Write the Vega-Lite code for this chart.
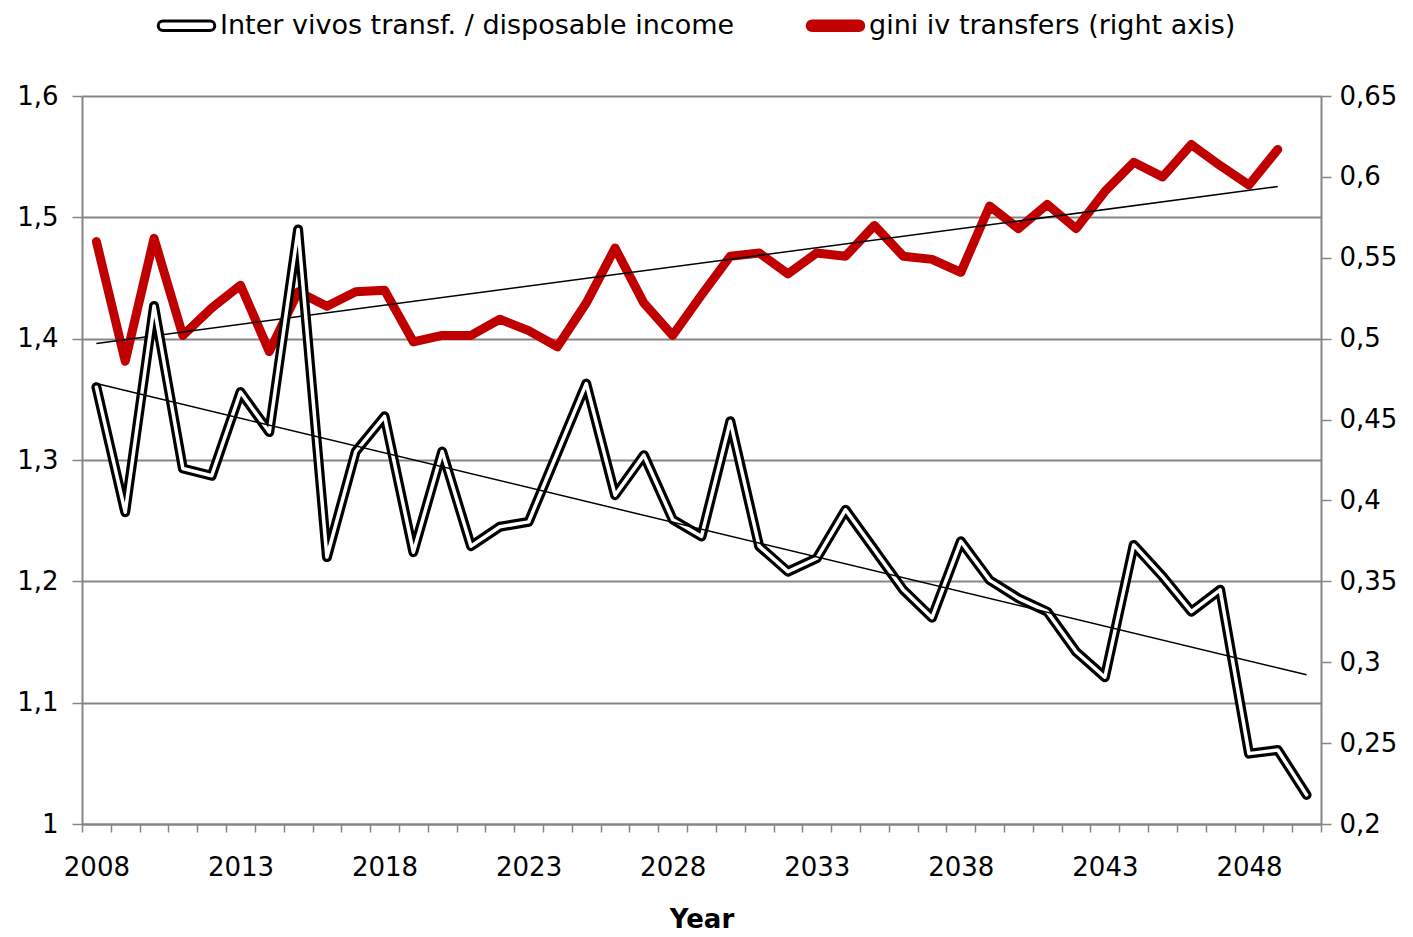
{
  "$schema": "https://vega.github.io/schema/vega-lite/v6.json",
  "width": 1239,
  "height": 728,
  "autosize": "none",
  "padding": {"left": 82, "top": 96, "right": 92, "bottom": 113},
  "background": "white",
  "config": {
    "view": {"stroke": null},
    "font": "DejaVu Sans",
    "axis": {
      "labelFont": "DejaVu Sans",
      "labelFontSize": 26,
      "labelColor": "black",
      "titleFont": "DejaVu Sans",
      "titleFontSize": 26,
      "titleColor": "black",
      "domainColor": "#868686",
      "domainWidth": 2,
      "tickColor": "#868686",
      "tickWidth": 1.5,
      "gridColor": "#868686",
      "gridWidth": 2
    }
  },
  "datasets": {
    "series": [
      {"year": 2008, "ratio": 1.360, "gini": 0.560},
      {"year": 2009, "ratio": 1.257, "gini": 0.486},
      {"year": 2010, "ratio": 1.427, "gini": 0.562},
      {"year": 2011, "ratio": 1.293, "gini": 0.502},
      {"year": 2012, "ratio": 1.287, "gini": 0.519},
      {"year": 2013, "ratio": 1.356, "gini": 0.533},
      {"year": 2014, "ratio": 1.323, "gini": 0.492},
      {"year": 2015, "ratio": 1.490, "gini": 0.529},
      {"year": 2016, "ratio": 1.220, "gini": 0.520},
      {"year": 2017, "ratio": 1.307, "gini": 0.529},
      {"year": 2018, "ratio": 1.336, "gini": 0.530},
      {"year": 2019, "ratio": 1.224, "gini": 0.498},
      {"year": 2020, "ratio": 1.307, "gini": 0.502},
      {"year": 2021, "ratio": 1.229, "gini": 0.502},
      {"year": 2022, "ratio": 1.245, "gini": 0.512},
      {"year": 2023, "ratio": 1.249, "gini": 0.505},
      {"year": 2024, "ratio": 1.306, "gini": 0.495},
      {"year": 2025, "ratio": 1.363, "gini": 0.522},
      {"year": 2026, "ratio": 1.271, "gini": 0.556},
      {"year": 2027, "ratio": 1.304, "gini": 0.522},
      {"year": 2028, "ratio": 1.251, "gini": 0.502},
      {"year": 2029, "ratio": 1.237, "gini": 0.527},
      {"year": 2030, "ratio": 1.332, "gini": 0.551},
      {"year": 2031, "ratio": 1.229, "gini": 0.553},
      {"year": 2032, "ratio": 1.208, "gini": 0.540},
      {"year": 2033, "ratio": 1.219, "gini": 0.553},
      {"year": 2034, "ratio": 1.259, "gini": 0.551},
      {"year": 2035, "ratio": 1.226, "gini": 0.570},
      {"year": 2036, "ratio": 1.193, "gini": 0.551},
      {"year": 2037, "ratio": 1.170, "gini": 0.549},
      {"year": 2038, "ratio": 1.233, "gini": 0.541},
      {"year": 2039, "ratio": 1.201, "gini": 0.582},
      {"year": 2040, "ratio": 1.186, "gini": 0.568},
      {"year": 2041, "ratio": 1.175, "gini": 0.583},
      {"year": 2042, "ratio": 1.142, "gini": 0.568},
      {"year": 2043, "ratio": 1.121, "gini": 0.591},
      {"year": 2044, "ratio": 1.230, "gini": 0.609},
      {"year": 2045, "ratio": 1.204, "gini": 0.600},
      {"year": 2046, "ratio": 1.175, "gini": 0.620},
      {"year": 2047, "ratio": 1.193, "gini": 0.607},
      {"year": 2048, "ratio": 1.058, "gini": 0.595},
      {"year": 2049, "ratio": 1.061, "gini": 0.617},
      {"year": 2050, "ratio": 1.024, "gini": null}
    ],
    "trendRatio": [
      {"year": 2008, "trend": 1.363},
      {"year": 2050, "trend": 1.123}
    ],
    "trendGini": [
      {"year": 2008, "trend": 0.497},
      {"year": 2049, "trend": 0.594}
    ]
  },
  "encoding": {
    "x": {
      "field": "year",
      "type": "ordinal",
      "scale": {"type": "band", "paddingInner": 0, "paddingOuter": 0},
      "axis": {
        "title": "Year",
        "titleFontWeight": "bold",
        "titlePadding": 26,
        "labelAngle": 0,
        "labelOverlap": false,
        "labelPadding": 22,
        "tickBand": "extent",
        "tickSize": 8,
        "labelExpr": "(datum.value - 2008) % 5 == 0 ? datum.value + '' : ''"
      }
    }
  },
  "layer": [
    {
      "layer": [
        {
          "data": {"name": "series"},
          "mark": {"type": "line", "strokeWidth": 9, "strokeCap": "round", "strokeJoin": "round"},
          "encoding": {
            "y": {"field": "gini", "type": "quantitative"},
            "stroke": {
              "datum": "gini iv transfers (right axis)",
              "type": "nominal",
              "scale": {
                "domain": ["Inter vivos transf. / disposable income", "gini iv transfers (right axis)"],
                "range": ["black", "#C00000"]
              },
              "legend": {
                "title": null,
                "orient": "none",
                "direction": "horizontal",
                "legendX": 75,
                "legendY": -100,
                "padding": 0,
                "columnPadding": 66,
                "labelFont": "DejaVu Sans",
                "labelFontSize": 27,
                "labelColor": "black",
                "labelOffset": 4,
                "labelLimit": 800,
                "symbolType": "M-0.84,-0.17 L0.84,-0.17 A0.17,0.17 0 0 1 0.84,0.17 L-0.84,0.17 A0.17,0.17 0 0 1 -0.84,-0.17 Z",
                "symbolSize": 3136,
                "symbolStrokeWidth": 3,
                "encode": {
                  "symbols": {
                    "update": {
                      "fill": {"signal": "datum.value == 'gini iv transfers (right axis)' ? '#C00000' : 'white'"},
                      "fillOpacity": {"value": 1},
                      "stroke": {"signal": "datum.value == 'gini iv transfers (right axis)' ? '#C00000' : 'black'"}
                    }
                  }
                }
              }
            }
          }
        },
        {
          "data": {"name": "trendGini"},
          "mark": {"type": "line", "strokeWidth": 1.5, "color": "black"},
          "encoding": {
            "y": {"field": "trend", "type": "quantitative"}
          }
        }
      ],
      "encoding": {
        "y": {
          "scale": {"domain": [0.2, 0.65], "zero": false, "nice": false},
          "axis": {
            "orient": "right",
            "title": null,
            "grid": false,
            "values": [0.2, 0.25, 0.3, 0.35, 0.4, 0.45, 0.5, 0.55, 0.6, 0.65],
            "format": ".2~f",
            "labelExpr": "replace(datum.label, '.', ',')",
            "tickSize": 10,
            "labelPadding": 8
          }
        }
      }
    },
    {
      "layer": [
        {
          "data": {"name": "series"},
          "mark": {"type": "line", "strokeWidth": 10, "strokeCap": "round", "strokeJoin": "round"},
          "encoding": {
            "y": {"field": "ratio", "type": "quantitative"},
            "stroke": {"datum": "Inter vivos transf. / disposable income", "type": "nominal"}
          }
        },
        {
          "data": {"name": "series"},
          "mark": {"type": "line", "strokeWidth": 3.5, "color": "white", "strokeCap": "round", "strokeJoin": "round"},
          "encoding": {
            "y": {"field": "ratio", "type": "quantitative"}
          }
        },
        {
          "data": {"name": "trendRatio"},
          "mark": {"type": "line", "strokeWidth": 1.5, "color": "black"},
          "encoding": {
            "y": {"field": "trend", "type": "quantitative"}
          }
        }
      ],
      "encoding": {
        "y": {
          "scale": {"domain": [1, 1.6], "zero": false, "nice": false},
          "axis": {
            "orient": "left",
            "title": null,
            "grid": true,
            "values": [1, 1.1, 1.2, 1.3, 1.4, 1.5, 1.6],
            "format": ".1~f",
            "labelExpr": "replace(datum.label, '.', ',')",
            "tickSize": 10,
            "labelPadding": 14
          }
        }
      }
    }
  ],
  "resolve": {"scale": {"y": "independent", "stroke": "shared"}}
}
